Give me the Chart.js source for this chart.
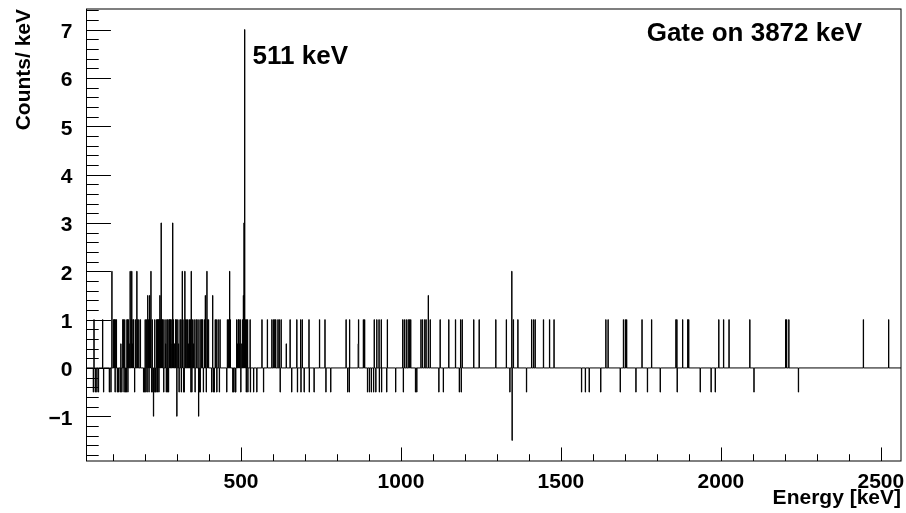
<!DOCTYPE html>
<html>
<head>
<meta charset="utf-8">
<script src="https://cdn.jsdelivr.net/npm/chart.js@4.4.1/dist/chart.umd.min.js"></script>
<style>
  html, body { margin: 0; padding: 0; background: #fff; }
  #c { display: block; }
</style>
</head>
<body>
<canvas id="c" width="906" height="513"></canvas>
<script>
// Gated gamma spectrum, 1 keV bins: low edge of every non-empty bin (keV)
const binKeV = [
  38, 40, 44, 49, 54, 67, 70, 88, 93, 96, 101, 103, 105, 106, 108, 110, 113, 117, 122, 124,
  127, 130, 132, 134, 136, 138, 141, 143, 145, 146, 148, 150, 153, 156, 158, 160, 162, 164, 167, 170,
  174, 176, 180, 185, 195, 198, 200, 202, 204, 206, 208, 210, 212, 214, 216, 218, 220, 222, 224, 226,
  228, 230, 232, 234, 236, 238, 239, 240, 242, 243, 244, 246, 248, 250, 252, 254, 256, 258, 262, 264,
  266, 268, 270, 271, 273, 275, 277, 279, 281, 284, 286, 288, 290, 293, 295, 297, 299, 302, 304, 306,
  309, 312, 313, 316, 318, 320, 322, 324, 326, 330, 333, 335, 338, 341, 343, 344, 346, 348, 351, 353,
  356, 359, 362, 367, 368, 370, 372, 374, 377, 379, 382, 385, 388, 391, 393, 395, 398, 408, 411, 413,
  416, 419, 422, 424, 428, 432, 434, 455, 457, 460, 464, 466, 474, 476, 481, 483, 486, 489, 491, 493,
  495, 497, 499, 502, 504, 507, 509, 511, 513, 516, 517, 520, 521, 528, 529, 539, 549, 565, 570, 582,
  596, 601, 605, 608, 615, 619, 622, 625, 641, 653, 658, 674, 676, 686, 687, 691, 697, 712, 713, 728,
  745, 762, 765, 780, 828, 833, 838, 839, 866, 867, 882, 886, 895, 901, 907, 914, 916, 921, 924, 931,
  932, 938, 939, 955, 957, 983, 1005, 1007, 1010, 1016, 1022, 1026, 1030, 1045, 1049, 1062, 1067, 1074, 1078, 1085,
  1091, 1118, 1122, 1132, 1149, 1170, 1182, 1186, 1188, 1191, 1227, 1244, 1296, 1329, 1340, 1346, 1347, 1351, 1365, 1392,
  1408, 1414, 1419, 1445, 1464, 1478, 1564, 1576, 1588, 1624, 1640, 1647, 1685, 1695, 1701, 1705, 1734, 1753, 1770, 1783,
  1810, 1859, 1862, 1863, 1880, 1896, 1899, 1935, 1969, 1982, 1993, 2008, 2025, 2090, 2103, 2202, 2205, 2212, 2242, 2445,
  2524
];
// Background-subtracted counts per keV in those bins
const binCounts = [
  -0.5, 1, -0.5, -0.5, -0.5, 1, -0.5, -0.5, -0.5, 2, 1, 1, 1, -0.5, 1, 1, -0.5, -0.5, -0.5, 0.5,
  -0.5, 1, 1, -0.5, 1, -0.5, -0.5, 1, 1, -0.5, 1, 0.5, 2, 1, 2, 0.5, 1, 1, -0.5, 1,
  2, 1, 1, 1, -0.5, -0.5, 1, -0.5, 1, -0.5, 1.5, 1, -0.5, 1.5, 1, 2, -0.5, 1, -0.5, -1,
  -0.5, 1, -0.5, -0.5, 1, 1, -0.5, 1, 1, -0.5, 1, 1.5, 1, 3, 1, 1, 1, -0.5, 1, 0.5,
  -0.5, 1, -0.5, 1, -0.5, 1, 1, 1, 1, 0.5, 3, 1, 0.5, 0.5, 1, 1, -1, 1, 0.5, -0.5,
  1, 1, -0.5, 2, 1, -0.5, -0.5, 2, 1, 1, 1, 0.5, 1, 1, -0.5, 2, -0.5, 1, 0.5, 1,
  -0.5, 1, 1, -1, 1, -0.5, -0.5, 1, 1, 1, -0.5, 1, 1.5, -0.5, 2, 1, 1, -0.5, 1.5, -0.5,
  -0.5, 1, 1, -0.5, 1, -0.5, 1, -0.5, 1, 1, 2, 1, -0.5, -0.5, -0.5, -0.5, 1, 0.5, 1, 1,
  0.5, 1, -0.5, 0.5, 1, 1.5, 3, 7, 1, -0.5, 1, 1, -0.5, 1, -0.5, -0.5, -0.5, 1, -0.5, 1,
  1, 1, 1, 1, 1, 1, -0.5, 1, 0.5, 1, -0.5, 1, -0.5, 1, -0.5, 1, -0.5, 1, -0.5, -0.5,
  1, 1, -0.5, -0.5, 1, -0.5, -0.5, 1, 0.5, 1, 1, 1, -0.5, -0.5, -0.5, -0.5, 1, -0.5, 1, 1,
  -0.5, 1, -0.5, -0.5, 1, -0.5, 1, -0.5, 1, 1, 1, 1, 1, -0.5, -0.5, 1, 1, 1, 1, 1.5,
  1, -0.5, 1, -0.5, 1, 1, -0.5, 1, -0.5, 1, 1, 1, 1, 1, -0.5, 2, -1.5, 1, 1, -0.5,
  1, 1, 1, 1, 1, 1, -0.5, -0.5, -0.5, -0.5, 1, 1, -0.5, 1, 1, 1, -0.5, 1, -0.5, 1,
  -0.5, 1, 1, -0.5, 1, 1, 1, -0.5, -0.5, -0.5, 1, 1, 1, 1, -0.5, 1, 1, 1, -0.5, 1,
  1
];
const binWidth = 1;              // keV
const energyRange = [17, 2563];  // keV
const countRange = [-1.925, 7.425];
const xTickValues = [500, 1000, 1500, 2000, 2500];
const yTickValues = [-1, 0, 1, 2, 3, 4, 5, 6, 7];
const gateLabel = 'Gate on 3872 keV';
const peakLabel = '511 keV';
const peakEnergy = 511;

// Histogram outline: step points at bin edges, dropping back to zero between filled bins
function histogramOutline() {
  const pts = [{x: energyRange[0], y: 0}];
  for (let i = 0; i < binKeV.length; i++) {
    pts.push({x: binKeV[i], y: binCounts[i]});
    const next = binKeV[i + 1];
    if (next === undefined || next !== binKeV[i] + binWidth) {
      pts.push({x: binKeV[i] + binWidth, y: 0});
    }
  }
  pts.push({x: energyRange[1], y: 0});
  return pts;
}

const FONT = '"Liberation Sans", Arial, Helvetica, sans-serif';

// Frame with inward tick marks (major + minor) and the two text annotations
const frameTicks = {
  id: 'frameTicks',
  afterDraw(chart) {
    const {ctx, chartArea: a, scales: {x, y}} = chart;
    ctx.save();
    ctx.strokeStyle = '#000';
    ctx.lineWidth = 1;
    ctx.strokeRect(a.left, a.top, a.right - a.left, a.bottom - a.top);
    const xMajor = 0.03 * (a.bottom - a.top);
    const yMajor = 0.03 * (a.right - a.left);
    ctx.beginPath();
    for (let v = 100; v <= x.max; v += 100) {
      if (v < x.min) continue;
      const px = Math.round(x.getPixelForValue(v)) + 0.5;
      const len = v % 500 === 0 ? xMajor : xMajor / 2;
      ctx.moveTo(px, a.bottom);
      ctx.lineTo(px, a.bottom - len);
    }
    for (let i = Math.ceil(y.min / 0.2); i * 0.2 <= y.max; i++) {
      const py = Math.round(y.getPixelForValue(i * 0.2)) + 0.5;
      const len = i % 5 === 0 ? yMajor : yMajor / 2;
      ctx.moveTo(a.left, py);
      ctx.lineTo(a.left + len, py);
    }
    ctx.stroke();

    ctx.fillStyle = '#000';
    ctx.font = 'bold 26px ' + FONT;
    ctx.textBaseline = 'alphabetic';
    ctx.textAlign = 'left';
    ctx.fillText(peakLabel, x.getPixelForValue(peakEnergy) + 8, 63.5);
    ctx.textAlign = 'right';
    ctx.fillText(gateLabel, 862, 41);
    ctx.restore();
  }
};

// Axis boxes keep fixed sizes so the plot frame lands where it should
function noLabelOverflow(s) {
  s.paddingLeft = 0; s.paddingRight = 0; s.paddingTop = 0; s.paddingBottom = 0;
}

new Chart(document.getElementById('c'), {
  type: 'line',
  data: {
    datasets: [{
      data: histogramOutline(),
      stepped: 'before',
      borderColor: '#000',
      borderWidth: 1,
      pointRadius: 0,
      fill: false,
      tension: 0
    }]
  },
  options: {
    responsive: false,
    animation: false,
    events: [],
    layout: {padding: {left: 0, top: 9, right: 5, bottom: 0}},
    plugins: {legend: {display: false}, tooltip: {enabled: false}},
    scales: {
      x: {
        type: 'linear',
        min: energyRange[0],
        max: energyRange[1],
        grid: {display: false, drawTicks: false},
        border: {display: false},
        afterBuildTicks: s => { s.ticks = xTickValues.map(v => ({value: v})); },
        afterFit: s => { s.height = 52; noLabelOverflow(s); },
        ticks: {
          color: '#000',
          padding: 9,
          maxRotation: 0,
          autoSkip: false,
          font: {family: FONT, size: 21, weight: 'bold'},
          callback: v => String(v)
        },
        title: {
          display: true,
          text: 'Energy [keV]',
          align: 'end',
          color: '#000',
          font: {family: FONT, size: 21, weight: 'bold'},
          padding: {top: 0, bottom: 2}
        }
      },
      y: {
        type: 'linear',
        min: countRange[0],
        max: countRange[1],
        grid: {display: false, drawTicks: false},
        border: {display: false},
        afterBuildTicks: s => { s.ticks = yTickValues.map(v => ({value: v})); },
        afterFit: s => { s.width = 86.5; noLabelOverflow(s); },
        ticks: {
          color: '#000',
          padding: 14,
          labelOffset: 2.5,
          autoSkip: false,
          font: {family: FONT, size: 21, weight: 'bold'},
          callback: v => (v < 0 ? '\u2212' + Math.abs(v) : String(v))
        },
        title: {
          display: true,
          text: 'Counts/ keV',
          align: 'end',
          color: '#000',
          font: {family: FONT, size: 21, weight: 'bold'},
          padding: {top: 12, bottom: 0}
        }
      }
    }
  },
  plugins: [frameTicks]
});
</script>
</body>
</html>
